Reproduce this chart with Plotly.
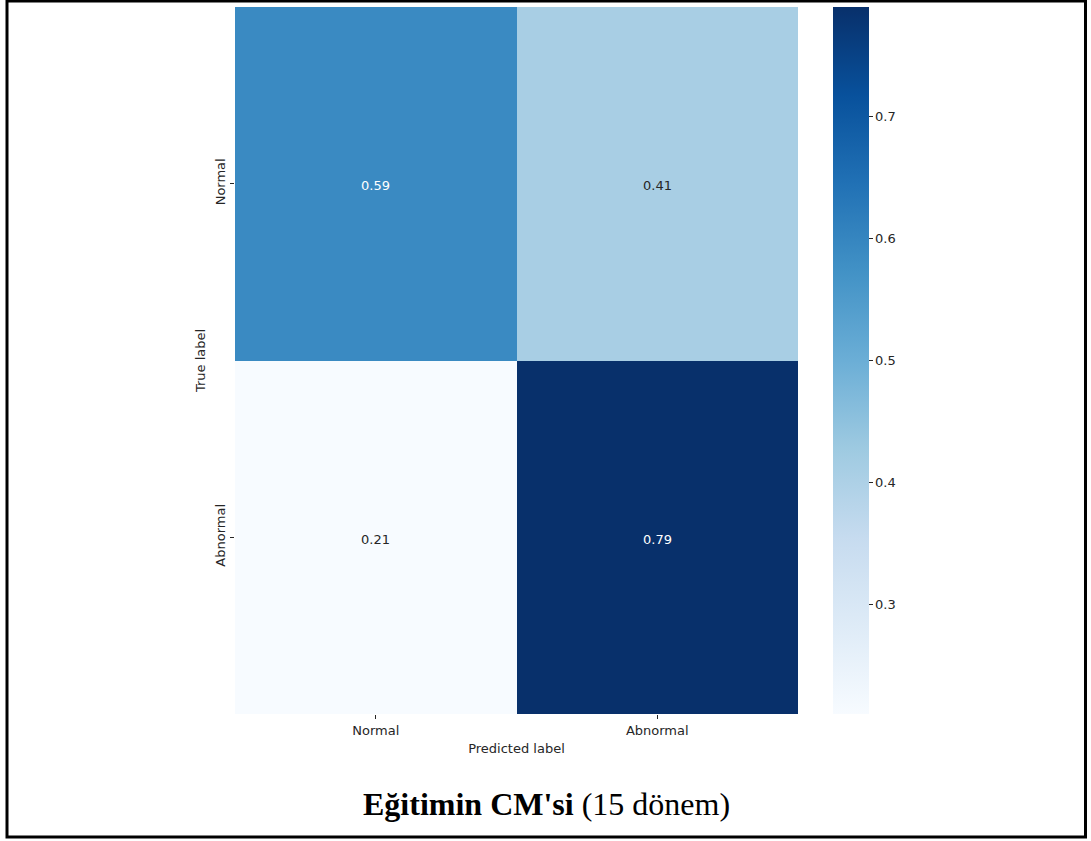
import plotly.graph_objects as go

# Confusion matrix (normalised rows), 15 epochs of training
true_labels = ["Normal", "Abnormal"]
pred_labels = ["Normal", "Abnormal"]
cm_values = [
    [0.59, 0.41],
    [0.21, 0.79],
]
cbar_ticks = [0.3, 0.4, 0.5, 0.6, 0.7]

W, H = 1091, 841
px = lambda v: v / W
py = lambda v: 1 - v / H

zmin = min(min(r) for r in cm_values)
zmax = max(max(r) for r in cm_values)

tick_font = dict(family="DejaVu Sans", size=13, color="#262626")

fig = go.Figure(
    go.Heatmap(
        z=cm_values,
        x=pred_labels,
        y=true_labels,
        colorscale="Blues",
        zmin=zmin,
        zmax=zmax,
        xgap=0,
        ygap=0,
        hoverinfo="skip",
        colorbar=dict(
            x=px(833),
            xanchor="left",
            xpad=0,
            y=py(714),
            yanchor="bottom",
            yref="paper",
            len=(714 - 7) / H,
            lenmode="fraction",
            ypad=0,
            thickness=36,
            thicknessmode="pixels",
            outlinewidth=0,
            tickvals=cbar_ticks,
            tickformat=".1f",
            ticks="outside",
            ticklen=4,
            tickwidth=1,
            tickcolor="#262626",
            tickfont=tick_font,
        ),
    )
)

# cell annotations, light text on dark cells
mid = (zmin + zmax) / 2
for i, t in enumerate(true_labels):
    for j, p in enumerate(pred_labels):
        v = cm_values[i][j]
        fig.add_annotation(
            x=p, y=t, xref="x", yref="y", yshift=-2,
            text=f"{v:.2f}",
            showarrow=False,
            font=dict(family="DejaVu Sans", size=13,
                      color="#ffffff" if v > mid else "#262626"),
        )

fig.update_xaxes(
    domain=[px(235), px(798)],
    ticks="outside", ticklen=4, tickcolor="#262626",
    tickfont=tick_font,
    showgrid=False, zeroline=False, showline=False,
    title=dict(text="Predicted label", font=tick_font, standoff=7),
)
fig.update_yaxes(
    domain=[py(714), py(7)],
    autorange="reversed",
    ticks="outside", ticklen=4, tickcolor="#262626",
    tickfont=tick_font, tickangle=-90,
    showgrid=False, zeroline=False, showline=False,
    title=dict(text="True label", font=tick_font, standoff=4),
)

# caption below the chart
fig.add_annotation(
    x=px(546), y=py(824), xref="paper", yref="paper",
    xanchor="center", yanchor="bottom",
    text="<b>Eğitimin CM'si</b> (15 dönem)",
    showarrow=False,
    font=dict(family="Liberation Serif", size=32, color="#000000"),
)

# frame around the whole figure
fig.add_shape(
    type="rect", xref="paper", yref="paper",
    x0=px(7), x1=px(1085.5), y0=py(837), y1=py(1),
    line=dict(color="#000000", width=3),
    fillcolor="rgba(0,0,0,0)",
)

fig.update_layout(
    width=W, height=H,
    margin=dict(l=0, r=0, t=0, b=0),
    paper_bgcolor="#ffffff",
    plot_bgcolor="#ffffff",
    showlegend=False,
)

fig.write_html("out.html")
